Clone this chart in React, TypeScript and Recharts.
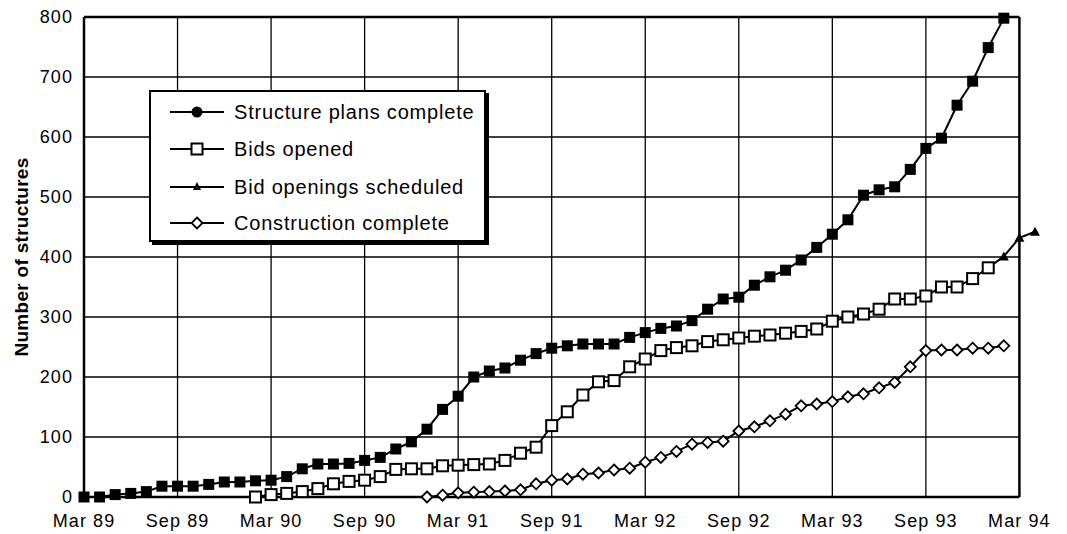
import React from 'react';
import { LineChart, Line, XAxis, YAxis, ReferenceLine, Legend } from 'recharts';

// x positions are month indices counted from Mar 89 (0) to Mar 94 (60)
const xTicks = [0, 6, 12, 18, 24, 30, 36, 42, 48, 54, 60];
const xTickLabels = ['Mar 89', 'Sep 89', 'Mar 90', 'Sep 90', 'Mar 91', 'Sep 91', 'Mar 92', 'Sep 92', 'Mar 93', 'Sep 93', 'Mar 94'];
const yTicks = [0, 100, 200, 300, 400, 500, 600, 700, 800];
const lastMonth = 61;

const plansStart = 0;
const plansValues = [0, 0, 4, 6, 9, 18, 18, 18, 21, 25, 25, 27, 28, 34, 47, 55, 55, 56, 61, 66, 80, 92, 113, 146, 168, 200, 210, 215, 228, 239, 248, 252, 255, 255, 255, 266, 274, 281, 285, 294, 313, 330, 333, 353, 367, 378, 395, 416, 438, 462, 503, 512, 517, 546, 581, 598, 653, 693, 749, 798];

const bidsStart = 11;
const bidsValues = [0, 4, 6, 9, 14, 22, 26, 28, 34, 46, 47, 47, 52, 53, 54, 55, 61, 73, 83, 119, 142, 170, 192, 194, 217, 230, 244, 249, 252, 259, 262, 265, 268, 270, 273, 276, 280, 293, 300, 305, 313, 330, 330, 335, 350, 350, 364, 382];

const schedStart = 58;
const schedValues = [382, 401, 432, 442];

const constrStart = 22;
const constrValues = [0, 3, 7, 8, 9, 10, 12, 22, 28, 30, 38, 40, 45, 48, 58, 66, 76, 88, 91, 93, 110, 117, 127, 138, 152, 155, 159, 167, 172, 182, 191, 217, 244, 245, 245, 248, 248, 252];

const seriesNames = ['Structure plans complete', 'Bids opened', 'Bid openings scheduled', 'Construction complete'];

const pick = (arr: number[], start: number, m: number) => {
  const i = m - start;
  return i >= 0 && i < arr.length ? arr[i] : null;
};

const rows = Array.from({ length: lastMonth + 1 }, (_, m) => ({
  m,
  plans: pick(plansValues, plansStart, m),
  bids: pick(bidsValues, bidsStart, m),
  sched: pick(schedValues, schedStart, m),
  constr: pick(constrValues, constrStart, m),
}));

const FONT = '"Liberation Sans", Arial, Helvetica, sans-serif';

const valid = (p: any) => p && p.cx != null && p.cy != null && p.value != null && !Number.isNaN(p.cy);

const FilledSquare = (p: any) => {
  if (!valid(p)) return <g key={`fs${p.index}`} />;
  return <rect key={`fs${p.index}`} x={p.cx - 5.5} y={p.cy - 5.5} width={11} height={11} fill="#000" />;
};
const OpenSquare = (p: any) => {
  if (!valid(p)) return <g key={`os${p.index}`} />;
  return <rect key={`os${p.index}`} x={p.cx - 5.5} y={p.cy - 5.5} width={11} height={11} fill="#fff" stroke="#000" strokeWidth={2} />;
};
const Diamond = (p: any) => {
  if (!valid(p)) return <g key={`dm${p.index}`} />;
  const r = 5.5;
  return <path key={`dm${p.index}`} d={`M${p.cx},${p.cy - r}L${p.cx + r},${p.cy}L${p.cx},${p.cy + r}L${p.cx - r},${p.cy}Z`} fill="#fff" stroke="#000" strokeWidth={1.8} />;
};
const Triangle = (p: any) => {
  if (!valid(p) || (p.payload && p.payload.m === schedStart)) return <g key={`tr${p.index}`} />;
  const r = 5;
  return <path key={`tr${p.index}`} d={`M${p.cx},${p.cy - r}L${p.cx + r},${p.cy + r * 0.8}L${p.cx - r},${p.cy + r * 0.8}Z`} fill="#000" />;
};

const legendMarkers = [
  <circle cx={27} cy={10} r={5.5} fill="#000" />,
  <rect x={21.5} y={4.5} width={11} height={11} fill="#fff" stroke="#000" strokeWidth={2} />,
  <path d="M27,5L31,13L23,13Z" fill="#000" />,
  <path d="M27,4.5L32.5,10L27,15.5L21.5,10Z" fill="#fff" stroke="#000" strokeWidth={1.8} />,
];
const legendRowCenters = [20, 57, 95, 131];

const LegendBox = () => (
  <div style={{ position: 'relative', width: 333, height: 148, border: '2px solid #000', boxShadow: '3px 3px 0 0 #000', background: '#fff', fontFamily: FONT }}>
    {seriesNames.map((name, i) => (
      <div key={name} style={{ position: 'absolute', left: 19, top: legendRowCenters[i] - 12, height: 24, display: 'flex', alignItems: 'center', whiteSpace: 'nowrap' }}>
        <svg width={56} height={20} style={{ display: 'block' }}>
          <line x1={0} y1={10} x2={54} y2={10} stroke="#000" strokeWidth={2} />
          {legendMarkers[i]}
        </svg>
        <span style={{ marginLeft: 8, fontSize: 20, letterSpacing: 0.8, color: '#000', lineHeight: '24px' }}>{name}</span>
      </div>
    ))}
  </div>
);

const YLabel = (props: any) => {
  const vb = props.viewBox || { y: 17, height: 480 };
  const cy = vb.y + vb.height / 2;
  const x = 28;
  return (
    <text x={x} y={cy} transform={`rotate(-90, ${x}, ${cy})`} textAnchor="middle" fontFamily={FONT} fontSize={19} fontWeight="bold" letterSpacing={0.3} fill="#000">
      Number of structures
    </text>
  );
};

const tickStyle = { fill: '#000', fontSize: 18, fontFamily: FONT, letterSpacing: 1.1 };

export default function App() {
  return (
    <div>
      <style>{'body{margin:0;background:#fff;}'}</style>
      <LineChart width={1067} height={534} data={rows} margin={{ top: 17, right: 32, bottom: 0, left: 0 }}>
        <XAxis
          dataKey="m"
          type="number"
          domain={[0, lastMonth]}
          ticks={xTicks}
          tickFormatter={(v: number) => xTickLabels[xTicks.indexOf(v)] ?? ''}
          axisLine={false}
          tickLine={false}
          tickMargin={11}
          height={37}
          tick={tickStyle}
          interval={0}
        />
        <YAxis
          type="number"
          domain={[0, 800]}
          ticks={yTicks}
          width={84}
          tickLine={false}
          tickMargin={5}
          axisLine={{ stroke: '#000', strokeWidth: 2.5 }}
          tick={tickStyle}
          interval={0}
          label={{ content: YLabel }}
        />
        {xTicks.slice(1, -1).map((t) => (
          <ReferenceLine key={`vx${t}`} x={t} stroke="#000" strokeWidth={1.3} />
        ))}
        {yTicks.slice(1, -1).map((t) => (
          <ReferenceLine key={`hy${t}`} segment={[{ x: 0, y: t }, { x: 60, y: t }]} stroke="#000" strokeWidth={1.3} />
        ))}
        <ReferenceLine x={60} stroke="#000" strokeWidth={2.5} />
        <ReferenceLine segment={[{ x: 0, y: 800 }, { x: 60, y: 800 }]} stroke="#000" strokeWidth={2.5} />
        <ReferenceLine segment={[{ x: 0, y: 0 }, { x: 60, y: 0 }]} stroke="#000" strokeWidth={2.5} />
        <Legend
          layout="vertical"
          align="center"
          verticalAlign="middle"
          content={() => <LegendBox />}
          wrapperStyle={{ position: 'absolute', left: 149, top: 90, width: 337, height: 152 }}
        />
        <Line name={seriesNames[3]} dataKey="constr" stroke="#000" strokeWidth={2} dot={Diamond} activeDot={false} isAnimationActive={false} />
        <Line name={seriesNames[2]} dataKey="sched" stroke="#000" strokeWidth={2} dot={Triangle} activeDot={false} isAnimationActive={false} />
        <Line name={seriesNames[1]} dataKey="bids" stroke="#000" strokeWidth={2} dot={OpenSquare} activeDot={false} isAnimationActive={false} />
        <Line name={seriesNames[0]} dataKey="plans" stroke="#000" strokeWidth={2} dot={FilledSquare} activeDot={false} isAnimationActive={false} />
      </LineChart>
    </div>
  );
}
